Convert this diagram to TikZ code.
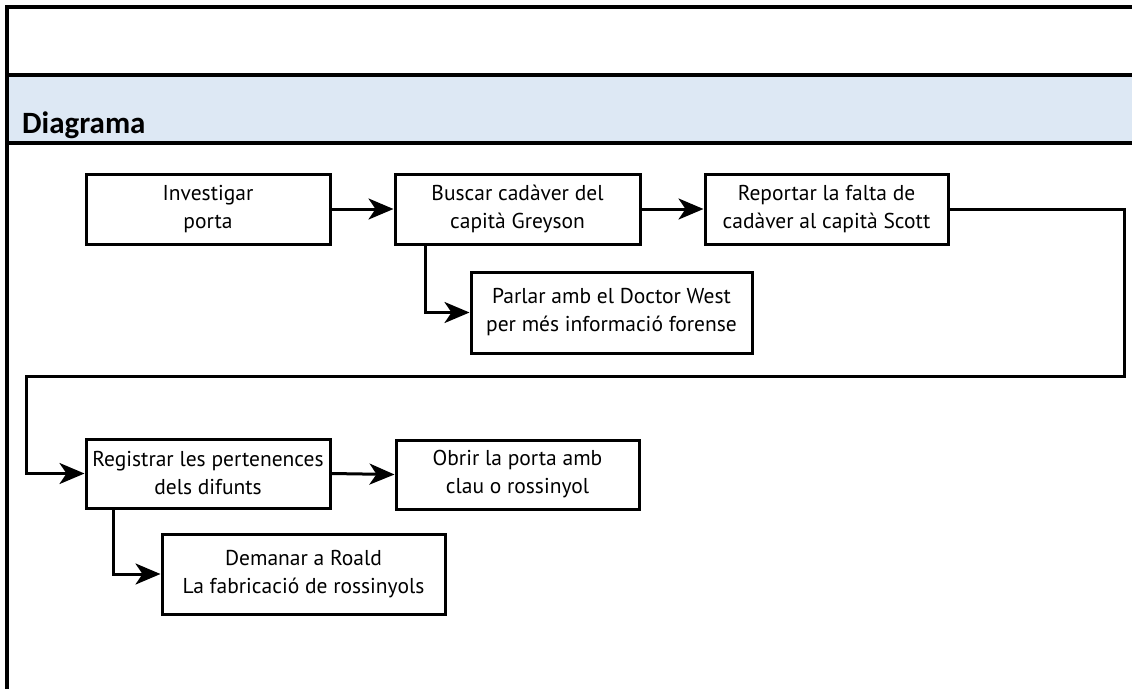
\documentclass[tikz,border=0pt]{standalone}
\usepackage{fontspec}
\setmainfont{PT Sans}
\newfontfamily\headfont{Carlito}
\usetikzlibrary{arrows.meta}
\definecolor{bandblue}{RGB}{221,232,244}
\begin{document}
\begin{tikzpicture}[x=1pt,y=-1pt,
  stepbox/.style={draw, line width=3pt, rectangle, align=center, inner sep=0pt,
    font=\fontsize{21.5}{28}\selectfont},
  arr/.style={line width=3pt, -{Stealth[length=25pt,width=21pt,inset=7pt]}},
  frameline/.style={line width=3.3pt}]
\useasboundingbox (0,0) rectangle (1132,689);
% header
\fill[bandblue] (7,75) rectangle (1132,143);
\draw[frameline] (1132,7) -- (7,7) -- (7,689);
\draw[frameline] (7,75) -- (1132,75);
\draw[frameline] (7,143) -- (1132,143);
\node[anchor=base west, font=\headfont\bfseries\fontsize{31}{34}\selectfont, inner sep=0pt] (title) at (22,133) {Diagrama};
% boxes
\node[stepbox, minimum width=244pt, minimum height=70pt] (b1) at (208,209) {Investigar\\porta};
\node[stepbox, minimum width=245pt, minimum height=70pt] (b2) at (517.5,209) {Buscar cadàver del\\capità Greyson};
\node[stepbox, minimum width=243pt, minimum height=70pt] (b3) at (826.5,209) {Reportar la falta de\\cadàver al capità Scott};
\node[stepbox, minimum width=281pt, minimum height=81pt] (b4) at (611.5,312.5) {Parlar amb el Doctor West\\per més informació forense};
\node[stepbox, minimum width=244pt, minimum height=69pt] (b5) at (208,473.5) {Registrar les pertenences\\dels difunts};
\node[stepbox, minimum width=243pt, minimum height=69pt] (b6) at (517.5,474.5) {Obrir la porta amb\\clau o rossinyol};
\node[stepbox, minimum width=283pt, minimum height=80pt] (b7) at (303.5,574) {Demanar a Roald\\La fabricació de rossinyols};
\coordinate (r1) at (1124,376);
\coordinate (l1) at (26,376);
% connectors
\draw[arr] (b1.east) -- (b2.west);
\draw[arr] (b2.east) -- (b3.west);
\draw[arr] ([xshift=32pt]b2.south west) |- (b4.west);
\draw[arr] (b3.east) -| (r1) -- (l1) |- (b5.west);
\draw[arr] (b5.east) -- (b6.west);
\draw[arr] ([xshift=29pt]b5.south west) |- (b7.west);
\end{tikzpicture}
\end{document}
